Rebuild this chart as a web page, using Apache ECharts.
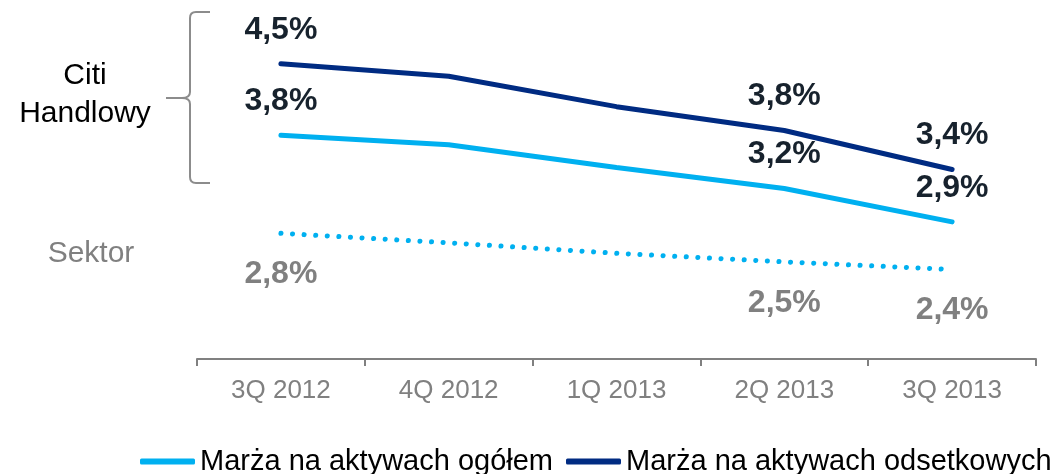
<!DOCTYPE html>
<html lang="pl">
<head>
    <meta charset="UTF-8">
    <script src="https://cdn.jsdelivr.net/npm/echarts@6/dist/echarts.min.js"></script>
    <title>Marża</title>
</head>
<body style="margin:0;">
<div id="main" style="width:1063px;height:474px;"></div>

<script type="text/javascript">
    // dane
    var kwartaly = ['3Q 2012', '4Q 2012', '1Q 2013', '2Q 2013', '3Q 2013'];
    var ogolem = [3.79, 3.69, 3.45, 3.23, 2.88];
    var odsetkowe = [4.54, 4.41, 4.09, 3.84, 3.43];
    var sektor = [2.76, 2.66, 2.55, 2.46, 2.38];
    var etykietyIdx = [0, 3, 4]; // tylko te punkty maja etykiety

    var font = 'Liberation Sans, Arial, sans-serif';

    function punkty(arr) {
        return arr.map(function (v, i) {
            return {value: v, label: {show: etykietyIdx.indexOf(i) >= 0}};
        });
    }
    function fmt(p) {
        return p.value.toFixed(1).replace('.', ',') + '%';
    }

    // klamra przy "Citi Handlowy"
    var klamraStyle = {stroke: '#8c8c8c', lineWidth: 2, fill: null};
    function odc(x1, y1, x2, y2) {
        return {type: 'line', shape: {x1: x1, y1: y1, x2: x2, y2: y2}, style: klamraStyle, silent: true};
    }
    function luk(x1, y1, cx, cy, x2, y2) {
        return {type: 'bezierCurve', shape: {x1: x1, y1: y1, cpx1: cx, cpy1: cy, x2: x2, y2: y2}, style: klamraStyle, silent: true};
    }
    var klamra = [
        odc(210, 12, 196, 12), luk(196, 12, 190, 12, 190, 18),
        odc(190, 18, 190, 92), luk(190, 92, 190, 98, 182, 98),
        odc(182, 98, 166, 98), luk(182, 98, 190, 98, 190, 104),
        odc(190, 104, 190, 177), luk(190, 177, 190, 183, 196, 183),
        odc(196, 183, 210, 183)
    ];

    var etykieta = {
        position: 'top', distance: 18, formatter: fmt,
        fontFamily: font, fontSize: 32, lineHeight: 32, fontWeight: 'bold', color: '#17222d'
    };

    function seria(nazwa, dane, kolor, typ, lab) {
        return {
            name: nazwa,
            type: 'line',
            data: punkty(dane),
            showSymbol: true,
            symbol: 'circle',
            symbolSize: 0.1,
            itemStyle: {color: kolor, borderWidth: 0},
            lineStyle: {width: 5, type: typ, cap: 'round', color: kolor},
            label: lab
        };
    }

    var myChart = echarts.init(document.getElementById('main'));
    var option = {
        animation: false,
        grid: {left: 197, right: 27, top: 20, bottom: 115},
        legend: {
            data: ['Marża na aktywach ogółem', 'Marża na aktywach odsetkowych'],
            left: 140,
            top: 447,
            padding: 0,
            icon: 'roundRect',
            itemWidth: 55,
            itemHeight: 6,
            itemGap: 13,
            textStyle: {fontFamily: font, fontSize: 29, color: '#000'}
        },
        xAxis: {
            type: 'category',
            data: kwartaly,
            boundaryGap: true,
            axisLine: {show: true, lineStyle: {color: '#808080', width: 2}},
            axisTick: {show: true, length: 7, lineStyle: {color: '#808080', width: 2}},
            axisLabel: {fontFamily: font, fontSize: 26, lineHeight: 26, color: '#808080', margin: 19}
        },
        yAxis: {
            type: 'value',
            min: 1.44,
            max: 5.0,
            show: false,
            splitLine: {show: false}
        },
        series: [
            seria('Marża na aktywach ogółem', ogolem, '#00b0f0', 'solid', etykieta),
            seria('Marża na aktywach odsetkowych', odsetkowe, '#002b82', 'solid', etykieta),
            seria('Sektor', sektor, '#00b0f0', [0.1, 11.5],
                Object.assign({}, etykieta, {position: 'bottom', distance: 25, color: '#808080'}))
        ],
        graphic: klamra.concat([
            {
                type: 'text',
                x: 85, y: 95,
                style: {
                    text: 'Citi\nHandlowy', align: 'center', verticalAlign: 'middle',
                    font: '30px ' + font, lineHeight: 38, fill: '#000'
                }
            },
            {
                type: 'text',
                x: 91, y: 254,
                style: {
                    text: 'Sektor', align: 'center', verticalAlign: 'middle',
                    font: '30px ' + font, fill: '#808080'
                }
            }
        ])
    };
    myChart.setOption(option);
</script>
</body>
</html>
